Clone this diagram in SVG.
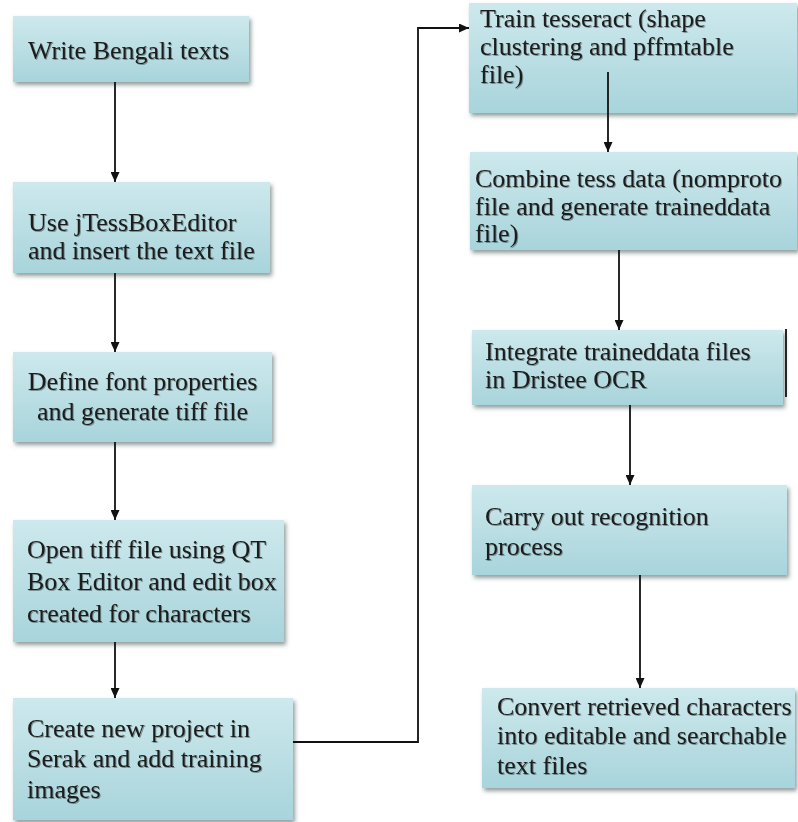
<svg xmlns="http://www.w3.org/2000/svg" width="798" height="822" viewBox="0 0 798 822">
<defs>
<linearGradient id="bg" x1="0" y1="0" x2="0" y2="1">
<stop offset="0" stop-color="#cde9ed"/>
<stop offset="1" stop-color="#a8d4db"/>
</linearGradient>
<filter id="sh" x="-5%" y="-5%" width="115%" height="125%">
<feDropShadow dx="2" dy="3" stdDeviation="2" flood-color="#4a5a5c" flood-opacity="0.6"/>
</filter>
<filter id="ts" x="-5%" y="-20%" width="110%" height="150%">
<feDropShadow dx="1" dy="1" stdDeviation="0.6" flood-color="#000" flood-opacity="0.35"/>
</filter>
<marker id="ah" markerUnits="userSpaceOnUse" markerWidth="10" markerHeight="9" refX="10" refY="4.5" orient="auto">
<path d="M0,0 L10,4.5 L0,9 z" fill="#111"/>
</marker>
</defs>
<style>
.box{fill:url(#bg);filter:url(#sh);}
.t{font-family:"Liberation Serif","Times New Roman",serif;font-size:26px;fill:#1c1c1c;filter:url(#ts);}
.c{text-anchor:middle;}
.ln{fill:none;stroke:#111;stroke-width:1.8;}
</style>
<rect width="798" height="822" fill="#fff"/>
<g id="n1"><rect class="box" x="13" y="16" width="236" height="66"/>
<text class="t" x="28" y="59">Write Bengali texts</text></g>
<g id="n2"><rect class="box" x="13" y="182" width="257" height="91"/>
<text class="t" x="28" y="231">Use jTessBoxEditor</text>
<text class="t" x="28" y="259">and insert the text file</text></g>
<g id="n3"><rect class="box" x="13" y="352" width="259" height="90"/>
<text class="t c" x="142.5" y="390">Define font properties</text>
<text class="t c" x="142.5" y="420">and generate tiff file</text></g>
<g id="n4"><rect class="box" x="13" y="520" width="271" height="122"/>
<text class="t" x="27" y="558">Open tiff file using QT</text>
<text class="t" x="27" y="590">Box Editor and edit box</text>
<text class="t" x="27" y="622">created for characters</text></g>
<g id="n5"><rect class="box" x="13" y="698" width="280" height="122"/>
<text class="t" x="27" y="737">Create new project in</text>
<text class="t" x="27" y="767">Serak and add training</text>
<text class="t" x="27" y="798">images</text></g>
<g id="n6"><rect class="box" x="469" y="3" width="328" height="110"/>
<text class="t" x="480" y="27">Train tesseract (shape</text>
<text class="t" x="480" y="55">clustering and pffmtable</text>
<text class="t" x="480" y="83">file)</text></g>
<g id="n7"><rect class="box" x="470" y="152" width="327" height="98"/>
<text class="t" x="475" y="187">Combine tess data (nomproto</text>
<text class="t" x="475" y="215">file and generate traineddata</text>
<text class="t" x="475" y="242">file)</text></g>
<g id="n8"><rect class="box" x="472" y="330" width="311" height="75"/>
<text class="t" x="485" y="360">Integrate traineddata files</text>
<text class="t" x="485" y="388">in Dristee OCR</text></g>
<g id="n9"><rect class="box" x="472" y="485" width="315" height="90"/>
<text class="t" x="485" y="525">Carry out recognition</text>
<text class="t" x="485" y="555">process</text></g>
<g id="n10"><rect class="box" x="482" y="688" width="313" height="100"/>
<text class="t" x="497" y="715">Convert retrieved characters</text>
<text class="t" x="497" y="744">into editable and searchable</text>
<text class="t" x="497" y="774">text files</text></g>
<g id="connectors">
<line class="ln" x1="115" y1="82" x2="115" y2="182" marker-end="url(#ah)"/>
<line class="ln" x1="115" y1="273" x2="115" y2="352" marker-end="url(#ah)"/>
<line class="ln" x1="115" y1="442" x2="115" y2="520" marker-end="url(#ah)"/>
<line class="ln" x1="115" y1="642" x2="115" y2="698" marker-end="url(#ah)"/>
<polyline class="ln" points="293,742 418,742 418,28 469,28" marker-end="url(#ah)"/>
<line class="ln" x1="608" y1="72" x2="608" y2="152" marker-end="url(#ah)"/>
<line class="ln" x1="619" y1="250" x2="619" y2="330" marker-end="url(#ah)"/>
<line class="ln" x1="630" y1="405" x2="630" y2="485" marker-end="url(#ah)"/>
<line class="ln" x1="640" y1="575" x2="640" y2="688" marker-end="url(#ah)"/>
<line class="ln" x1="786" y1="329" x2="786" y2="397"/>
</g>
</svg>
